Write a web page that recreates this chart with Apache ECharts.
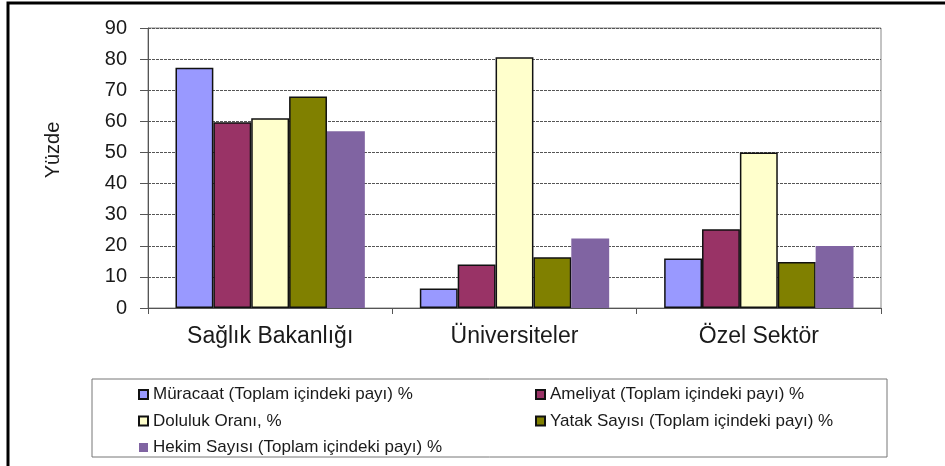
<!DOCTYPE html>
<html>
<head>
<meta charset="utf-8">
<script src="https://cdn.jsdelivr.net/npm/echarts@6/dist/echarts.min.js"></script>
<style>
  html, body { margin: 0; padding: 0; background: #fff; }
  #chart { width: 945px; height: 466px; }
</style>
</head>
<body>
<div id="chart"></div>
<script>
const categories = ['Sağlık Bakanlığı', 'Üniversiteler', 'Özel Sektör']
const seriesNames = [
  'Müracaat (Toplam içindeki payı) %',
  'Ameliyat (Toplam içindeki payı) %',
  'Doluluk Oranı, %',
  'Yatak Sayısı (Toplam içindeki payı) %',
  'Hekim Sayısı (Toplam içindeki payı) %'
]
const muracaat = [77.2, 6.3, 15.9]
const ameliyat = [59.7, 14, 25.3]
const doluluk = [61, 80.6, 50]
const yatak = [68, 16.3, 14.8]
const hekim = [56.8, 22.3, 19.9]
const colors = ['#9999ff', '#993366', '#ffffcc', '#808000', '#8064a2']

const values = [muracaat, ameliyat, doluluk, yatak, hekim]
const font = 'Liberation Sans, Arial, sans-serif'

const legendText = { fontSize: 17, lineHeight: 16, color: '#1a1a1a', fontFamily: font }

const chart = echarts.init(document.getElementById('chart'))
chart.setOption({
  animation: false,
  color: colors,
  textStyle: { fontFamily: font },
  grid: { left: 148, right: 64, top: 28, bottom: 158 },
  xAxis: {
    type: 'category',
    data: categories,
    axisLine: { lineStyle: { color: '#555', width: 1 } },
    axisTick: { show: true, length: 6, lineStyle: { color: '#555' } },
    axisLabel: { color: '#1a1a1a', fontSize: 23, margin: 17, fontFamily: font },
    splitLine: { show: false }
  },
  yAxis: {
    type: 'value',
    min: 0,
    max: 90,
    interval: 10,
    axisLine: { show: true, lineStyle: { color: '#555' } },
    axisTick: { show: true, length: 8, lineStyle: { color: '#555' } },
    axisLabel: { color: '#1a1a1a', fontSize: 20, margin: 21, fontFamily: font },
    splitLine: { show: true, lineStyle: { color: '#555', type: [3, 1], width: 1 } }
  },
  legend: [
    {
      orient: 'vertical',
      left: 138,
      top: 386,
      padding: 0,
      itemGap: 9.5,
      itemWidth: 9,
      itemHeight: 9,
      icon: 'rect',
      textStyle: legendText,
      data: [seriesNames[0], seriesNames[2], seriesNames[4]]
    },
    {
      orient: 'vertical',
      left: 535,
      top: 386,
      padding: 0,
      itemGap: 9.5,
      itemWidth: 9,
      itemHeight: 9,
      icon: 'rect',
      textStyle: legendText,
      data: [seriesNames[1], seriesNames[3]]
    }
  ],
  graphic: [
    // outer frame (only left and top edges are visible)
    { type: 'rect', shape: { x: 8, y: 3, width: 960, height: 480 }, style: { fill: 'none', stroke: '#000', lineWidth: 3 }, silent: true },
    // plot area frame
    { type: 'rect', shape: { x: 148, y: 28, width: 733, height: 280 }, style: { fill: 'none', stroke: '#888', lineWidth: 1 }, silent: true, z: 0 },
    // legend box
    { type: 'rect', shape: { x: 92, y: 379, width: 795, height: 78 }, style: { fill: 'none', stroke: '#777', lineWidth: 1 }, silent: true },
    // y axis title
    {
      type: 'text', x: 53, y: 150, rotation: Math.PI / 2,
      style: { text: 'Yüzde', fontSize: 20, fontFamily: font, fill: '#1a1a1a', align: 'center', verticalAlign: 'middle' }
    }
  ],
  series: seriesNames.map((name, i) => ({
    name,
    type: 'bar',
    data: values[i],
    barGap: '0%',
    barCategoryGap: '22.5%',
    itemStyle: { color: colors[i], borderColor: i < 4 ? '#111' : colors[i], borderWidth: i < 4 ? 1.5 : 0 }
  }))
})
</script>
</body>
</html>
